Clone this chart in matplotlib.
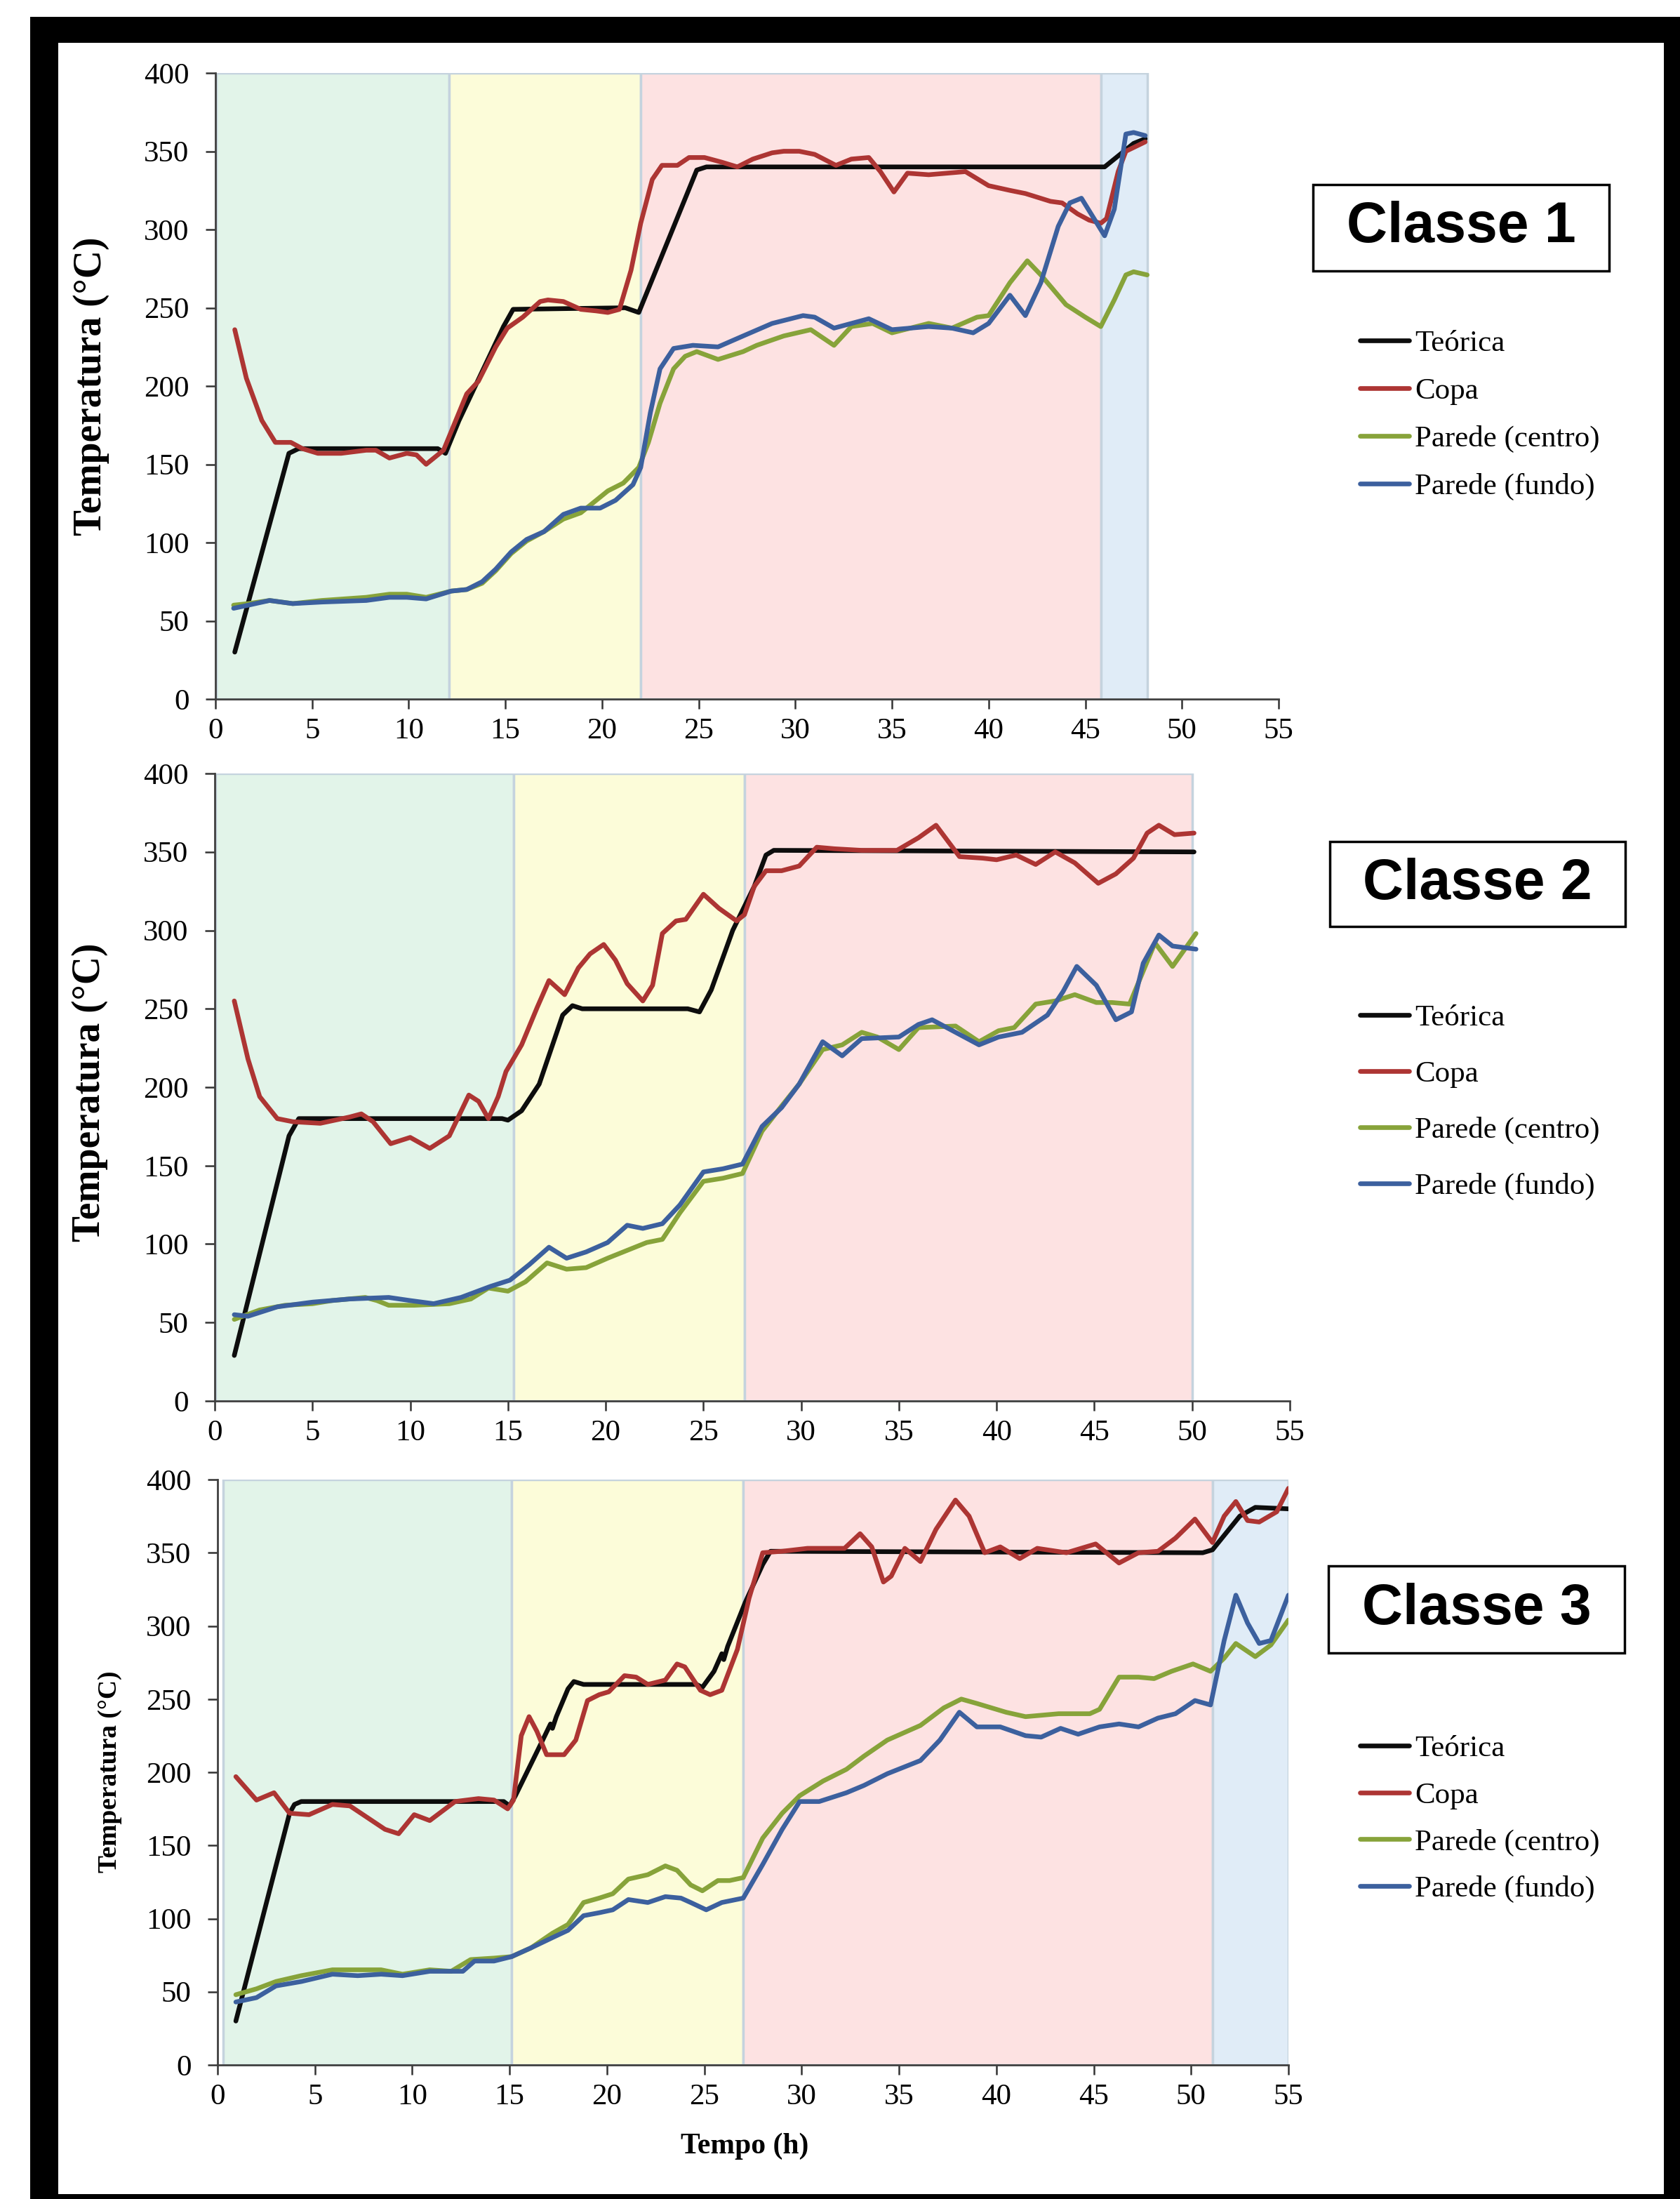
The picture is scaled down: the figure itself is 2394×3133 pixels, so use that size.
import matplotlib
matplotlib.use("Agg")
import matplotlib.pyplot as plt
from matplotlib.patches import Rectangle

W, H = 2394, 3133
plt.rcParams['font.family'] = ['Liberation Serif', 'DejaVu Serif']

series_names = ['Teórica', 'Copa', 'Parede (centro)', 'Parede (fundo)']
series_colors = ['#0d0d0d', '#ad3533', '#87a33a', '#3c609e']
x_ticks = list(range(0, 56, 5))
y_ticks = list(range(0, 401, 50))
phase_colors = ['#e2f4e9', '#fcfcd9', '#fde2e2', '#e0ecf7']

# --- Classe 1 ---
phases1 = [0.05, 12.1, 22.0, 45.8, 48.2]
teo1 = [(1, 30), (3.8, 157), (4.3, 160), (11.5, 160), (11.9, 157), (12.6, 178), (14.9, 238),
        (15.4, 249), (21.2, 250), (21.9, 247), (24.9, 338), (25.4, 340), (45.6, 340),
        (46.0, 340), (46.7, 347), (47.5, 355), (48.1, 358)]
copa1 = [(1.0, 236), (1.6, 205), (2.4, 178), (3.1, 164), (3.9, 164), (4.5, 160), (5.3, 157),
         (6.5, 157), (7.8, 159), (8.3, 159), (9.0, 154), (9.9, 157), (10.4, 156), (10.9, 150),
         (11.8, 159), (12.6, 183), (13.0, 195), (13.6, 203), (14.5, 225), (15.1, 237),
         (15.9, 244), (16.8, 254), (17.2, 255), (18.0, 254), (18.9, 249), (19.7, 248),
         (20.3, 247), (20.9, 249), (21.5, 274), (22.0, 304), (22.6, 332), (23.1, 341),
         (23.9, 341), (24.5, 346), (25.3, 346), (26.2, 343), (27.0, 340), (27.8, 345),
         (28.8, 349), (29.4, 350), (30.2, 350), (31.0, 348), (32.1, 341), (32.9, 345),
         (33.8, 346), (34.4, 337), (35.1, 324), (35.8, 336), (36.9, 335), (38.8, 337),
         (40.0, 328), (41.1, 325), (41.9, 323), (43.2, 318), (43.8, 317), (44.6, 310),
         (45.2, 306), (45.8, 304), (46.1, 307), (46.7, 337), (47.1, 350), (48.1, 356)]
centro1 = [(0.94, 60), (1.7, 61), (2.8, 63), (4.0, 61), (5.5, 63), (7.8, 65), (9.0, 67),
           (9.9, 67), (10.9, 65), (12.2, 69), (13.0, 70), (13.8, 74), (14.5, 82), (15.3, 93),
           (16.1, 101), (17.0, 107), (18.0, 115), (18.9, 119), (19.7, 127), (20.3, 133),
           (21.1, 138), (21.9, 148), (22.4, 164), (23.0, 189), (23.7, 211), (24.3, 219),
           (24.9, 222), (26.0, 217), (27.3, 222), (28.0, 226), (29.4, 232), (30.8, 236),
           (32.0, 226), (32.9, 238), (34.0, 240), (35.0, 234), (36.9, 240), (38.1, 237),
           (39.4, 244), (40.0, 245), (41.1, 266), (42.0, 280), (42.7, 271), (44.0, 252),
           (45.0, 244), (45.8, 238), (46.5, 255), (47.1, 271), (47.5, 273), (48.2, 271)]
fundo1 = [(0.94, 58), (1.7, 60), (2.8, 63), (4.0, 61), (5.5, 62), (7.8, 63), (9.0, 65),
          (9.9, 65), (10.9, 64), (12.2, 69), (13.0, 70), (13.8, 75), (14.5, 83), (15.3, 94),
          (16.1, 102), (17.0, 107), (18.0, 118), (18.9, 122), (19.9, 122), (20.7, 127),
          (21.6, 137), (22.0, 148), (22.5, 183), (23.0, 211), (23.7, 224), (24.7, 226),
          (26.0, 225), (27.3, 232), (28.8, 240), (30.4, 245), (31.0, 244), (32.0, 237),
          (33.8, 243), (35.0, 236), (36.9, 238), (38.1, 237), (39.2, 234), (40.0, 240),
          (41.1, 258), (41.9, 245), (42.7, 266), (43.6, 302), (44.2, 317), (44.8, 320),
          (45.3, 310), (46.0, 296), (46.5, 313), (47.1, 361), (47.5, 362), (48.1, 360)]

# --- Classe 2 ---
phases2 = [0.05, 15.3, 27.1, 50.0]
teo2 = [(1.0, 29), (3.8, 169), (4.3, 180), (14.7, 180), (15.0, 179), (15.7, 185), (16.6, 202),
        (17.8, 246), (18.3, 252), (18.8, 250), (24.2, 250), (24.8, 248), (25.4, 262),
        (26.5, 300), (27.6, 328), (28.2, 348), (28.6, 351), (50.1, 350)]
copa2 = [(1.0, 255), (1.7, 218), (2.3, 194), (3.2, 180), (4.0, 178), (5.4, 177), (6.9, 181),
         (7.5, 183), (8.1, 178), (9.0, 164), (10.0, 168), (11.0, 161), (12.0, 169), (13.0, 195),
         (13.5, 191), (14.0, 180), (14.5, 194), (14.9, 210), (15.7, 227), (16.5, 251),
         (17.1, 268), (17.9, 259), (18.6, 276), (19.2, 285), (19.9, 291), (20.5, 281),
         (21.1, 266), (21.9, 255), (22.4, 265), (22.9, 298), (23.6, 306), (24.1, 307),
         (25.0, 323), (25.8, 314), (26.7, 306), (27.1, 310), (27.6, 328), (28.2, 338),
         (29.0, 338), (29.9, 341), (30.8, 353), (31.7, 352), (33.1, 351), (34.9, 351),
         (36.0, 359), (36.9, 367), (38.1, 347), (39.3, 346), (40.0, 345), (41.0, 348),
         (42.0, 342), (43.0, 350), (44.0, 343), (45.2, 330), (46.1, 336), (47.0, 346),
         (47.7, 362), (48.3, 367), (49.1, 361), (50.1, 362)]
centro2 = [(1.0, 52), (2.3, 58), (3.6, 61), (5.0, 62), (6.0, 64), (7.7, 66), (8.3, 64),
           (8.9, 61), (10.2, 61), (12.0, 62), (13.1, 65), (14.0, 72), (15.0, 70), (15.9, 76),
           (17.0, 88), (18.0, 84), (19.0, 85), (20.1, 91), (21.1, 96), (22.1, 101), (22.9, 103),
           (23.8, 120), (25.0, 140), (26.0, 142), (27.0, 145), (28.0, 172), (29.0, 188),
           (29.9, 202), (31.1, 224), (32.1, 227), (33.1, 235), (33.9, 232), (35.0, 224),
           (36.0, 238), (37.9, 239), (39.1, 229), (40.1, 236), (40.9, 238), (42.0, 253),
           (43.0, 255), (44.0, 259), (45.1, 254), (45.9, 254), (46.8, 253), (47.3, 268),
           (48.1, 292), (49.0, 277), (50.2, 298)]
fundo2 = [(1.0, 55), (1.7, 54), (3.2, 60), (5.0, 63), (6.9, 65), (8.9, 66), (10.0, 64),
          (11.2, 62), (12.6, 66), (14.1, 73), (15.1, 77), (16.1, 87), (17.1, 98), (18.0, 91),
          (19.0, 95), (20.1, 101), (21.1, 112), (21.9, 110), (22.9, 113), (23.8, 125),
          (25.0, 146), (26.0, 148), (27.0, 151), (28.0, 175), (29.0, 187), (29.9, 202),
          (31.1, 229), (32.1, 220), (33.1, 231), (35.0, 232), (36.0, 240), (36.7, 243),
          (37.9, 235), (39.1, 227), (40.1, 232), (41.3, 235), (42.6, 246), (43.4, 261),
          (44.1, 277), (45.1, 265), (46.1, 243), (46.9, 248), (47.5, 279), (48.3, 297),
          (49.0, 290), (50.2, 288)]

# --- Classe 3 ---
phases3 = [0.3, 15.1, 27.0, 51.1, 55.0]
teo3 = [(0.94, 30), (3.7, 172), (3.95, 178), (4.3, 180), (14.7, 180), (15.0, 177), (15.3, 184),
        (16.7, 222), (17.1, 233), (17.2, 230), (17.4, 238), (18.0, 257), (18.3, 262),
        (18.8, 260), (24.6, 260), (24.9, 258), (25.5, 269), (25.9, 281), (26.0, 277),
        (26.2, 286), (27.1, 316), (28.0, 342), (28.4, 351), (50.6, 350), (51.1, 352),
        (52.5, 375), (53.3, 381), (55.0, 380)]
copa3 = [(0.94, 197), (2.0, 181), (2.9, 186), (3.7, 172), (4.7, 171), (5.9, 178), (6.8, 177),
         (8.6, 161), (9.3, 158), (10.1, 171), (10.9, 167), (12.2, 180), (13.4, 182), (14.2, 181),
         (14.9, 175), (15.2, 181), (15.6, 225), (16.0, 238), (16.4, 228), (16.9, 212),
         (17.8, 212), (18.4, 222), (19.0, 249), (19.6, 253), (20.1, 255), (20.9, 266),
         (21.5, 265), (22.1, 260), (23.0, 263), (23.6, 274), (24.0, 272), (24.8, 256),
         (25.3, 253), (25.9, 256), (26.7, 284), (27.3, 319), (28.0, 350), (29.0, 351),
         (30.3, 353), (32.2, 353), (33.0, 363), (33.6, 354), (34.2, 330), (34.6, 334),
         (35.3, 353), (36.1, 344), (36.9, 366), (37.9, 386), (38.6, 375), (39.4, 350),
         (40.2, 354), (41.2, 346), (42.1, 353), (43.6, 350), (45.1, 356), (46.3, 343),
         (47.3, 350), (48.3, 351), (49.2, 360), (50.2, 373), (51.1, 357), (51.7, 375),
         (52.3, 385), (52.9, 372), (53.5, 371), (54.4, 378), (55.0, 394)]
centro3 = [(0.94, 48), (2.0, 52), (3.0, 57), (4.3, 61), (5.9, 65), (7.2, 65), (8.4, 65),
           (9.5, 62), (10.9, 65), (12.0, 64), (13.0, 72), (14.2, 73), (15.1, 74), (16.1, 80),
           (17.2, 90), (18.0, 96), (18.8, 111), (19.6, 114), (20.3, 117), (21.1, 127),
           (22.1, 130), (23.0, 136), (23.6, 133), (24.3, 123), (24.9, 119), (25.7, 126),
           (26.3, 126), (27.0, 128), (28.0, 155), (29.0, 172), (29.9, 184), (31.1, 194),
           (32.3, 202), (33.2, 211), (34.4, 222), (36.1, 232), (37.3, 244), (38.2, 250),
           (39.0, 247), (40.5, 241), (41.5, 238), (43.2, 240), (44.8, 240), (45.3, 243),
           (46.3, 265), (47.3, 265), (48.1, 264), (49.0, 269), (50.1, 274), (51.0, 269),
           (51.7, 278), (52.3, 288), (53.3, 279), (54.1, 287), (55.0, 304)]
fundo3 = [(0.94, 43), (2.0, 46), (3.0, 54), (4.3, 57), (5.9, 62), (7.2, 61), (8.4, 62),
          (9.5, 61), (10.9, 64), (12.0, 64), (12.6, 64), (13.2, 71), (14.2, 71), (15.1, 74),
          (16.1, 80), (17.2, 87), (18.0, 92), (18.8, 102), (19.6, 104), (20.3, 106),
          (21.1, 113), (22.1, 111), (23.0, 115), (23.8, 114), (24.3, 111), (25.1, 106),
          (25.9, 111), (27.0, 114), (28.0, 137), (29.0, 161), (29.9, 180), (30.9, 180),
          (32.3, 186), (33.2, 191), (34.4, 199), (36.1, 208), (37.1, 222), (38.1, 241),
          (39.0, 231), (40.2, 231), (41.5, 225), (42.3, 224), (43.3, 230), (44.2, 226),
          (45.3, 231), (46.3, 233), (47.3, 231), (48.3, 237), (49.2, 240), (50.2, 249),
          (51.0, 246), (51.7, 290), (52.3, 321), (52.9, 302), (53.5, 288), (54.1, 290),
          (55.0, 321)]

classes = ['Classe 1', 'Classe 2', 'Classe 3']
all_series = [[teo1, copa1, centro1, fundo1],
              [teo2, copa2, centro2, fundo2],
              [teo3, copa3, centro3, fundo3]]
all_phases = [phases1, phases2, phases3]

# layout, in pixels of the final image (left, top, right, bottom)
axes_px = [(307, 104, 1822, 996), (306, 1102, 1838, 1996), (310, 2108, 1836, 2942)]
box_px = [(1871, 263, 2293, 386), (1895, 1199, 2316, 1320), (1893, 2231, 2315, 2355)]
legend_top = [470, 1431, 2472]
legend_spacing = [0.67, 0.95, 0.64]
ylabel_pos = [(130, 550, 40), (128, 1556, 40), (156, 2524, 27)]


def fx(x):
    return x / W


def fy(y):
    return 1 - y / H


fig = plt.figure(figsize=(W / 100, H / 100), dpi=100)
fig.patch.set_facecolor('white')

# thick black frame
fig.add_artist(Rectangle((fx(43), 0), 1, 1 - 24 / H, transform=fig.transFigure,
                         fc='black', ec='none', zorder=-20))
fig.add_artist(Rectangle((fx(83), fy(3126)), (2371 - 83) / W, (3126 - 61) / H,
                         transform=fig.transFigure, fc='white', ec='none', zorder=-19))

for i in range(3):
    l, t, r, b = axes_px[i]
    ax = fig.add_axes([fx(l), fy(b), (r - l) / W, (b - t) / H])

    bounds = all_phases[i]
    for k in range(len(bounds) - 1):
        ax.axvspan(bounds[k], bounds[k + 1], fc=phase_colors[k], ec='#c5d3de', lw=2.5, zorder=0)

    handles = []
    for data, name, color in zip(all_series[i], series_names, series_colors):
        xs = [p[0] for p in data]
        ys = [p[1] for p in data]
        ln, = ax.plot(xs, ys, color=color, lw=4.8, label=name, zorder=3,
                      solid_joinstyle='round', solid_capstyle='round')
        handles.append(ln)

    ax.set_xlim(0, 55)
    ax.set_ylim(0, 400)
    ax.set_xticks(x_ticks)
    ax.set_yticks(y_ticks)
    ax.tick_params(axis='both', labelsize=31, length=10, width=1.8, color='#333333',
                   direction='out')
    ax.tick_params(axis='y', pad=17)
    ax.tick_params(axis='x', pad=9)
    for s in ['top', 'right']:
        ax.spines[s].set_visible(False)
    for s in ['left', 'bottom']:
        ax.spines[s].set_color('#404040')
        ax.spines[s].set_linewidth(2)

    ax.legend(handles=handles, loc='upper left',
              bbox_to_anchor=(fx(1938), fy(legend_top[i])), bbox_transform=fig.transFigure,
              frameon=False, fontsize=31, handlelength=1.63, handletextpad=0.19,
              labelspacing=legend_spacing[i], borderpad=0, borderaxespad=0)

    bl, bt, br, bb = box_px[i]
    fig.add_artist(Rectangle((fx(bl), fy(bb)), (br - bl) / W, (bb - bt) / H,
                             transform=fig.transFigure, fc='white', ec='black', lw=2.5))
    fig.text(fx((bl + br) / 2), fy((bt + bb) / 2), classes[i], ha='center', va='center',
             fontsize=58, fontweight='bold', family='Liberation Sans')

    yx, yy, ys_ = ylabel_pos[i]
    fig.text(fx(yx), fy(yy), 'Temperatura (°C)', rotation=90, ha='center', va='center',
             fontsize=ys_, fontweight='bold')

fig.text(fx(1061), fy(3058), 'Tempo (h)', ha='center', va='center', fontsize=30,
         fontweight='bold')

fig.savefig('out.png', dpi=100)
